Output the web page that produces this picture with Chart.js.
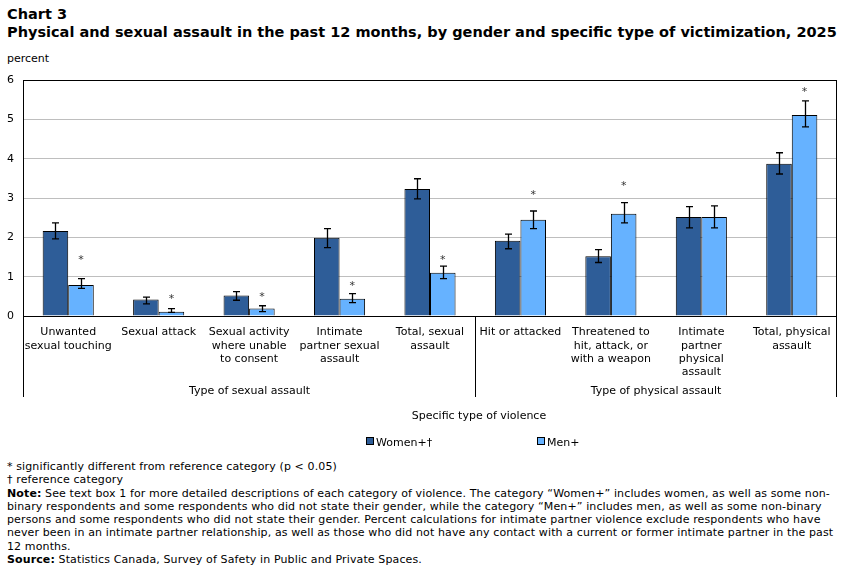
<!DOCTYPE html>
<html>
<head>
<meta charset="utf-8">
<script src="https://cdn.jsdelivr.net/npm/chart.js@4.4.1/dist/chart.umd.min.js"></script>
<style>
  body { margin: 0; background: #fff; width: 851px; height: 567px; position: relative; overflow: hidden;
         font-family: "DejaVu Sans", Verdana, sans-serif; color: #000; }
  .title { position: absolute; left: 7px; font-weight: bold; font-size: 14.5px; white-space: nowrap; line-height: 18px; }
  .unit { position: absolute; left: 7px; top: 52px; font-size: 11px; line-height: 14px; }
  #chart { position: absolute; left: 0; top: 0; }
  .axis-title { position: absolute; top: 409px; left: 479px; transform: translateX(-50%); font-size: 11px; line-height: 14px; white-space: nowrap; }
  .legend { position: absolute; top: 436px; font-size: 11px; line-height: 14px; white-space: nowrap; }
  .legend i { display: inline-block; width: 6px; height: 6px; border: 1px solid #000; margin-right: 2px; vertical-align: 1px; }
  .notes { position: absolute; left: 7px; top: 460px; font-family: "DejaVu Sans", Verdana, sans-serif;
           font-size: 11px; line-height: 13.3px; letter-spacing: 0.12px; white-space: nowrap; }
</style>
</head>
<body>
<div class="title" style="top:5px">Chart 3</div>
<div class="title" style="top:23px">Physical and sexual assault in the past 12 months, by gender and specific type of victimization, 2025</div>
<div class="unit">percent</div>
<canvas id="chart" width="851" height="460"></canvas>
<div class="axis-title">Specific type of violence</div>
<div class="legend" style="left:366px"><i style="background:#2E5D98"></i>Women+†</div>
<div class="legend" style="left:537px"><i style="background:#66B2FF"></i>Men+</div>
<div class="notes">
* significantly different from reference category (p &lt; 0.05)<br>
† reference category<br>
<b>Note:</b> See text box 1 for more detailed descriptions of each category of violence. The category “Women+” includes women, as well as some non-<br>
binary respondents and some respondents who did not state their gender, while the category “Men+” includes men, as well as some non-binary<br>
persons and some respondents who did not state their gender. Percent calculations for intimate partner violence exclude respondents who have<br>
never been in an intimate partner relationship, as well as those who did not have any contact with a current or former intimate partner in the past<br>
12 months.<br>
<b>Source:</b> Statistics Canada, Survey of Safety in Public and Private Spaces.
</div>
<script>
// categories (multi-line tick labels)
const categories = [
  ["Unwanted", "sexual touching"],
  ["Sexual attack"],
  ["Sexual activity", "where unable", "to consent"],
  ["Intimate", "partner sexual", "assault"],
  ["Total, sexual", "assault"],
  ["Hit or attacked"],
  ["Threatened to", "hit, attack, or", "with a weapon"],
  ["Intimate", "partner", "physical", "assault"],
  ["Total, physical", "assault"]
];
// groups: label, first category index, last category index
const groupNames = ["Type of sexual assault", "Type of physical assault"];
const groupFirst = [0, 5];
const groupLast = [4, 8];

const women     = [2.16, 0.42, 0.52, 1.99, 3.23, 1.91, 1.52, 2.52, 3.87];
const womenLow  = [1.96, 0.31, 0.40, 1.74, 2.98, 1.71, 1.36, 2.24, 3.61];
const womenHigh = [2.37, 0.48, 0.62, 2.22, 3.49, 2.08, 1.69, 2.78, 4.15];

const men     = [0.79, 0.11, 0.19, 0.44, 1.10, 2.45, 2.60, 2.52, 5.11];
const menLow  = [0.70, 0.09, 0.11, 0.34, 0.95, 2.22, 2.37, 2.24, 4.81];
const menHigh = [0.95, 0.19, 0.26, 0.57, 1.27, 2.67, 2.88, 2.80, 5.47];

// significance markers for Men+ (value where the * sits, null = none)
const menStar = [1.46, 0.49, 0.53, 0.81, 1.46, 3.13, 3.35, null, 5.74];

const yTicks = [0, 1, 2, 3, 4, 5, 6];

const WOMEN_COLOR = '#2E5D98';
const MEN_COLOR = '#66B2FF';

const extras = {
  id: 'extras',
  afterDatasetsDraw(chart) {
    const ctx = chart.ctx;
    const y = chart.scales.y;
    const bars = [
      [chart.getDatasetMeta(0).data, womenLow, womenHigh],
      [chart.getDatasetMeta(1).data, menLow, menHigh]
    ];
    ctx.save();
    ctx.strokeStyle = '#000';
    ctx.lineWidth = 1.3;
    bars.forEach(([els, lo, hi]) => {
      els.forEach((el, i) => {
        const x = Math.round(el.x) + 0.5;
        const y1 = y.getPixelForValue(lo[i]);
        const y2 = y.getPixelForValue(hi[i]);
        ctx.beginPath();
        ctx.moveTo(x, y1); ctx.lineTo(x, y2);
        ctx.moveTo(x - 3.5, y1); ctx.lineTo(x + 3.5, y1);
        ctx.moveTo(x - 3.5, y2); ctx.lineTo(x + 3.5, y2);
        ctx.stroke();
      });
    });
    ctx.fillStyle = '#333';
    ctx.font = '11px "DejaVu Sans"';
    ctx.textAlign = 'center';
    ctx.textBaseline = 'middle';
    chart.getDatasetMeta(1).data.forEach((el, i) => {
      if (menStar[i] == null) return;
      ctx.fillText('*', el.x, y.getPixelForValue(menStar[i]) + 2);
    });
    ctx.restore();
  },
  afterDraw(chart) {
    const ctx = chart.ctx;
    const a = chart.chartArea;
    const x = chart.scales.x;
    const bottom = 397;
    ctx.save();
    ctx.strokeStyle = '#000';
    ctx.lineWidth = 1;
    ctx.strokeRect(a.left + 0.5, a.top + 0.5, a.right - a.left - 1, a.bottom - a.top);
    // group separators below the axis
    const edges = [a.left + 0.5];
    groupLast.forEach((last, g) => {
      if (g < groupLast.length - 1) {
        edges.push(Math.round((x.getPixelForValue(last) + x.getPixelForValue(groupFirst[g + 1])) / 2) + 0.5);
      }
    });
    edges.push(a.right - 0.5);
    ctx.beginPath();
    edges.forEach(ex => { ctx.moveTo(ex, a.bottom); ctx.lineTo(ex, bottom); });
    ctx.stroke();
    ctx.fillStyle = '#000';
    ctx.font = '11px "DejaVu Sans"';
    ctx.textAlign = 'center';
    ctx.textBaseline = 'middle';
    groupNames.forEach((name, g) => {
      const cx = (edges[g] + edges[g + 1]) / 2;
      ctx.fillText(name, cx, 391);
    });
    ctx.restore();
  }
};

new Chart(document.getElementById('chart'), {
  type: 'bar',
  data: {
    labels: categories,
    datasets: [
      { label: 'Women+†', data: women, backgroundColor: WOMEN_COLOR, borderColor: '#000', borderWidth: 1,
        categoryPercentage: 0.565, barPercentage: 1 },
      { label: 'Men+', data: men, backgroundColor: MEN_COLOR, borderColor: '#000', borderWidth: 1,
        categoryPercentage: 0.565, barPercentage: 1 }
    ]
  },
  options: {
    responsive: false,
    animation: false,
    layout: { padding: { top: 80, right: 14, left: 0, bottom: 0 } },
    plugins: { legend: { display: false }, tooltip: { enabled: false } },
    scales: {
      x: {
        grid: { display: false },
        border: { display: false },
        ticks: { color: '#000', font: { family: 'DejaVu Sans', size: 11 }, maxRotation: 0, minRotation: 0,
                 autoSkip: false, padding: 2 },
        afterFit(s) { s.height = 144; }
      },
      y: {
        min: 0, max: 6,
        afterBuildTicks(s) { s.ticks = yTicks.map(v => ({ value: v })); },
        grid: { color: '#BEBEBE', drawTicks: false },
        border: { display: false },
        ticks: { color: '#000', font: { family: 'DejaVu Sans', size: 11 }, padding: 9 },
        afterFit(s) { s.width = 23; }
      }
    }
  },
  plugins: [extras]
});
</script>
</body>
</html>
